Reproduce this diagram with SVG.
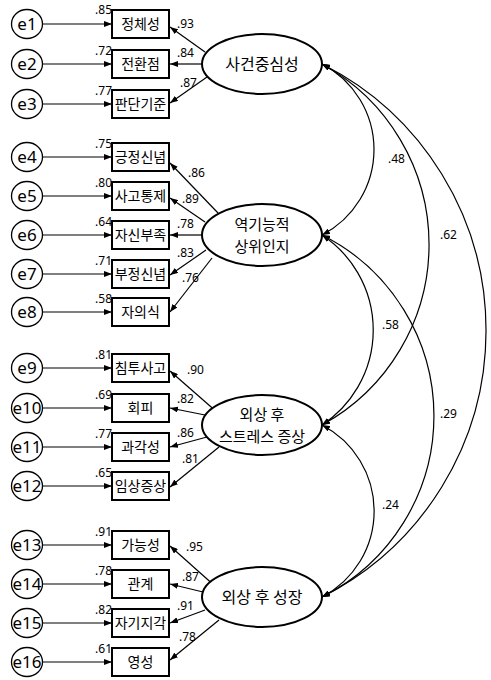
<svg xmlns="http://www.w3.org/2000/svg" width="491" height="680" viewBox="0 0 491 680">
<style>
.err{fill:#fff;stroke:#000;stroke-width:1.3}
.box{fill:#fff;stroke:#000;stroke-width:2}
.lat{fill:#fff;stroke:#000;stroke-width:2}
.ln{fill:none;stroke:#000;stroke-width:1.2}
.et{font-family:"Noto Sans","Liberation Sans",sans-serif;font-size:17px;text-anchor:middle}
.kt{font-family:"Noto Sans CJK KR",sans-serif;font-size:14px;text-anchor:middle}
.lt{font-family:"Noto Sans CJK KR",sans-serif;font-size:16px;text-anchor:middle}
.lt2{font-family:"Noto Sans CJK KR",sans-serif;font-size:15px;text-anchor:middle}
.num{font-family:"Noto Sans","Liberation Sans",sans-serif;font-size:12px}
.sm{text-anchor:end}
</style>
<defs>
<marker id="ah" viewBox="0 0 8 6" refX="8" refY="3" markerWidth="8" markerHeight="6" markerUnits="userSpaceOnUse" orient="auto-start-reverse">
<path d="M0,0 L8,3 L0,6 z" fill="#000"/>
</marker>
</defs>
<rect width="491" height="680" fill="#fff"/>
<g id="connectors">
<g class="ln" marker-end="url(#ah)">
<line x1="42.5" y1="24" x2="112" y2="24"/>
<line x1="42.5" y1="64" x2="112" y2="64"/>
<line x1="42.5" y1="104" x2="112" y2="104"/>
<line x1="42.5" y1="157" x2="112" y2="157"/>
<line x1="42.5" y1="196" x2="112" y2="196"/>
<line x1="42.5" y1="235" x2="112" y2="235"/>
<line x1="42.5" y1="274" x2="112" y2="274"/>
<line x1="42.5" y1="312" x2="112" y2="312"/>
<line x1="42.5" y1="368" x2="112" y2="368"/>
<line x1="42.5" y1="408" x2="112" y2="408"/>
<line x1="42.5" y1="447" x2="112" y2="447"/>
<line x1="42.5" y1="486" x2="112" y2="486"/>
<line x1="42.5" y1="545" x2="112" y2="545"/>
<line x1="42.5" y1="584" x2="112" y2="584"/>
<line x1="42.5" y1="623" x2="112" y2="623"/>
<line x1="42.5" y1="662" x2="112" y2="662"/>
<line x1="205" y1="52" x2="170" y2="27"/>
<line x1="202" y1="64" x2="170" y2="64"/>
<line x1="207" y1="77" x2="170" y2="103"/>
<line x1="218" y1="213" x2="170" y2="163"/>
<line x1="205" y1="222" x2="170" y2="198"/>
<line x1="202" y1="235" x2="170" y2="235"/>
<line x1="206" y1="250" x2="170" y2="275"/>
<line x1="212" y1="258" x2="170" y2="312"/>
<line x1="218" y1="413" x2="170" y2="371"/>
<line x1="205" y1="415" x2="170" y2="408"/>
<line x1="207" y1="437" x2="170" y2="447"/>
<line x1="219" y1="447" x2="170" y2="487"/>
<line x1="216" y1="587" x2="170" y2="546"/>
<line x1="203" y1="592" x2="170" y2="584"/>
<line x1="205" y1="610" x2="170" y2="623"/>
<line x1="219" y1="620" x2="170" y2="660"/>
</g>
<g class="ln" marker-start="url(#ah)" marker-end="url(#ah)">
<path d="M322,64 A96.3,96.3 0 0 1 322,235"/>
<path d="M322,235 A113.7,113.7 0 0 1 322,425"/>
<path d="M322,425 A97,97 0 0 1 322,597"/>
<path d="M322,64 A205.7,205.7 0 0 1 322,425"/>
<path d="M322,235 A202.3,202.3 0 0 1 322,597"/>
<path d="M322,64 A298.5,298.5 0 0 1 322,597"/>
</g>
<g class="num">
<text x="177" y="28">.93</text>
<text x="177" y="57">.84</text>
<text x="180" y="87">.87</text>
<text x="188" y="177">.86</text>
<text x="182" y="203">.89</text>
<text x="177" y="228">.78</text>
<text x="177" y="257">.83</text>
<text x="182" y="282">.76</text>
<text x="187" y="374">.90</text>
<text x="177" y="403">.82</text>
<text x="177" y="437">.86</text>
<text x="182" y="463">.81</text>
<text x="186" y="551">.95</text>
<text x="182" y="581">.87</text>
<text x="177" y="610">.91</text>
<text x="179" y="641">.78</text>
<text x="388" y="163">.48</text>
<text x="440" y="239">.62</text>
<text x="382" y="329">.58</text>
<text x="440" y="418">.29</text>
<text x="382" y="509">.24</text>
</g>
</g>
<g id="e1"><ellipse class="err" cx="27" cy="24" rx="15.5" ry="14.5"/><text class="et" x="27" y="30">e1</text></g>
<g id="e2"><ellipse class="err" cx="27" cy="64" rx="15.5" ry="14.5"/><text class="et" x="27" y="70">e2</text></g>
<g id="e3"><ellipse class="err" cx="27" cy="104" rx="15.5" ry="14.5"/><text class="et" x="27" y="110">e3</text></g>
<g id="e4"><ellipse class="err" cx="27" cy="157" rx="15.5" ry="14.5"/><text class="et" x="27" y="163">e4</text></g>
<g id="e5"><ellipse class="err" cx="27" cy="196" rx="15.5" ry="14.5"/><text class="et" x="27" y="202">e5</text></g>
<g id="e6"><ellipse class="err" cx="27" cy="235" rx="15.5" ry="14.5"/><text class="et" x="27" y="241">e6</text></g>
<g id="e7"><ellipse class="err" cx="27" cy="274" rx="15.5" ry="14.5"/><text class="et" x="27" y="280">e7</text></g>
<g id="e8"><ellipse class="err" cx="27" cy="312" rx="15.5" ry="14.5"/><text class="et" x="27" y="318">e8</text></g>
<g id="e9"><ellipse class="err" cx="27" cy="368" rx="15.5" ry="14.5"/><text class="et" x="27" y="374">e9</text></g>
<g id="e10"><ellipse class="err" cx="27" cy="408" rx="15.5" ry="14.5"/><text class="et" x="27" y="414">e10</text></g>
<g id="e11"><ellipse class="err" cx="27" cy="447" rx="15.5" ry="14.5"/><text class="et" x="27" y="453">e11</text></g>
<g id="e12"><ellipse class="err" cx="27" cy="486" rx="15.5" ry="14.5"/><text class="et" x="27" y="492">e12</text></g>
<g id="e13"><ellipse class="err" cx="27" cy="545" rx="15.5" ry="14.5"/><text class="et" x="27" y="551">e13</text></g>
<g id="e14"><ellipse class="err" cx="27" cy="584" rx="15.5" ry="14.5"/><text class="et" x="27" y="590">e14</text></g>
<g id="e15"><ellipse class="err" cx="27" cy="623" rx="15.5" ry="14.5"/><text class="et" x="27" y="629">e15</text></g>
<g id="e16"><ellipse class="err" cx="27" cy="662" rx="15.5" ry="14.5"/><text class="et" x="27" y="668">e16</text></g>
<g id="v1"><rect class="box" x="112" y="10" width="57" height="28"/><text class="kt" x="140.5" y="29">정체성</text><text class="num sm" x="112" y="14">.85</text></g>
<g id="v2"><rect class="box" x="112" y="50" width="57" height="28"/><text class="kt" x="140.5" y="69">전환점</text><text class="num sm" x="112" y="55">.72</text></g>
<g id="v3"><rect class="box" x="112" y="90" width="57" height="28"/><text class="kt" x="140.5" y="109">판단기준</text><text class="num sm" x="112" y="95">.77</text></g>
<g id="v4"><rect class="box" x="112" y="143" width="57" height="28"/><text class="kt" x="140.5" y="162">긍정신념</text><text class="num sm" x="112" y="148">.75</text></g>
<g id="v5"><rect class="box" x="112" y="182" width="57" height="28"/><text class="kt" x="140.5" y="201">사고통제</text><text class="num sm" x="112" y="187">.80</text></g>
<g id="v6"><rect class="box" x="112" y="221" width="57" height="28"/><text class="kt" x="140.5" y="240">자신부족</text><text class="num sm" x="112" y="226">.64</text></g>
<g id="v7"><rect class="box" x="112" y="260" width="57" height="28"/><text class="kt" x="140.5" y="279">부정신념</text><text class="num sm" x="112" y="265">.71</text></g>
<g id="v8"><rect class="box" x="112" y="298" width="57" height="28"/><text class="kt" x="140.5" y="317">자의식</text><text class="num sm" x="112" y="303">.58</text></g>
<g id="v9"><rect class="box" x="112" y="354" width="57" height="28"/><text class="kt" x="140.5" y="373">침투사고</text><text class="num sm" x="112" y="359">.81</text></g>
<g id="v10"><rect class="box" x="112" y="394" width="57" height="28"/><text class="kt" x="140.5" y="413">회피</text><text class="num sm" x="112" y="399">.69</text></g>
<g id="v11"><rect class="box" x="112" y="433" width="57" height="28"/><text class="kt" x="140.5" y="452">과각성</text><text class="num sm" x="112" y="438">.77</text></g>
<g id="v12"><rect class="box" x="112" y="472" width="57" height="28"/><text class="kt" x="140.5" y="491">임상증상</text><text class="num sm" x="112" y="477">.65</text></g>
<g id="v13"><rect class="box" x="112" y="531" width="57" height="28"/><text class="kt" x="140.5" y="550">가능성</text><text class="num sm" x="112" y="536">.91</text></g>
<g id="v14"><rect class="box" x="112" y="570" width="57" height="28"/><text class="kt" x="140.5" y="589">관계</text><text class="num sm" x="112" y="575">.78</text></g>
<g id="v15"><rect class="box" x="112" y="609" width="57" height="28"/><text class="kt" x="140.5" y="628">자기지각</text><text class="num sm" x="112" y="614">.82</text></g>
<g id="v16"><rect class="box" x="112" y="648" width="57" height="28"/><text class="kt" x="140.5" y="667">영성</text><text class="num sm" x="112" y="653">.61</text></g>
<g id="f1"><ellipse class="lat" cx="262" cy="64" rx="60" ry="30"/><text class="lt" x="262" y="70">사건중심성</text></g>
<g id="f2"><ellipse class="lat" cx="262" cy="235" rx="60" ry="31"/><text class="lt2" x="262" y="230">역기능적</text><text class="lt2" x="262" y="252">상위인지</text></g>
<g id="f3"><ellipse class="lat" cx="262" cy="425" rx="60" ry="30"/><text class="lt2" x="262" y="420">외상 후</text><text class="lt2" x="262" y="442">스트레스 증상</text></g>
<g id="f4"><ellipse class="lat" cx="262" cy="597" rx="60" ry="30"/><text class="lt" x="262" y="603">외상 후 성장</text></g>
</svg>
